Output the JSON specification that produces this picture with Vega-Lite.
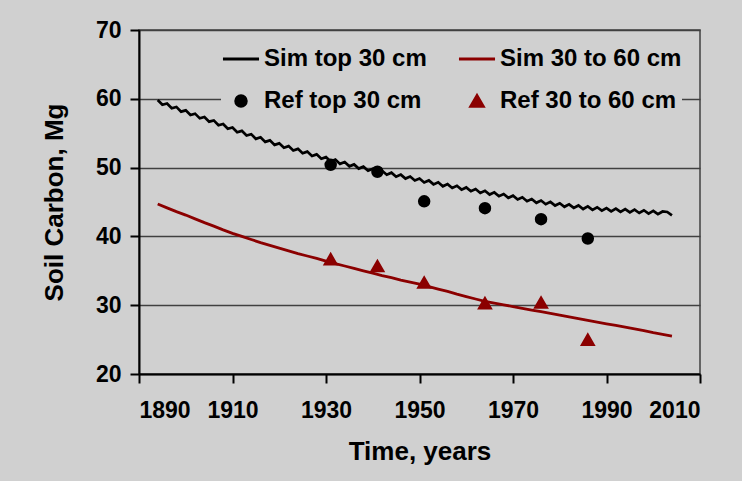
{
  "$schema": "https://vega.github.io/schema/vega-lite/v6.json",
  "width": 561,
  "height": 344,
  "autosize": {"type": "none"},
  "padding": {"left": 139, "top": 30, "right": 42, "bottom": 107},
  "background": "#d0d0d0",
  "config": {
    "font": "Liberation Sans",
    "view": {"stroke": "#404040", "strokeWidth": 1.5, "fill": "#d0d0d0"},
    "legend": {
      "orient": "none", "legendX": 82, "legendY": 9, "columns": 2,
      "fillColor": "#d0d0d0", "padding": 0, "columnPadding": 25, "rowPadding": 18,
      "labelFontSize": 24, "labelFontWeight": "bold", "labelColor": "#000000", "labelOffset": 3, "labelLimit": 400,
      "symbolStrokeWidth": 3, "symbolOpacity": 1
    }
  },
  "datasets": {
    "simtop": [
      {"year":1894,"value":59.82},{"year":1895,"value":59.13},{"year":1896,"value":59.32},{"year":1897,"value":58.63},{"year":1898,"value":58.82},{"year":1899,"value":58.13},
      {"year":1900,"value":58.32},{"year":1901,"value":57.64},{"year":1902,"value":57.84},{"year":1903,"value":57.16},{"year":1904,"value":57.36},{"year":1905,"value":56.68},
      {"year":1906,"value":56.86},{"year":1907,"value":56.16},{"year":1908,"value":56.34},{"year":1909,"value":55.64},{"year":1910,"value":55.82},{"year":1911,"value":55.14},
      {"year":1912,"value":55.34},{"year":1913,"value":54.66},{"year":1914,"value":54.86},{"year":1915,"value":54.18},{"year":1916,"value":54.40},{"year":1917,"value":53.74},
      {"year":1918,"value":53.96},{"year":1919,"value":53.30},{"year":1920,"value":53.52},{"year":1921,"value":52.88},{"year":1922,"value":53.12},{"year":1923,"value":52.48},
      {"year":1924,"value":52.72},{"year":1925,"value":52.08},{"year":1926,"value":52.32},{"year":1927,"value":51.68},{"year":1928,"value":51.92},{"year":1929,"value":51.28},
      {"year":1930,"value":51.52},{"year":1931,"value":50.90},{"year":1932,"value":51.16},{"year":1933,"value":50.54},{"year":1934,"value":50.80},{"year":1935,"value":50.18},
      {"year":1936,"value":50.46},{"year":1937,"value":49.86},{"year":1938,"value":50.14},{"year":1939,"value":49.54},{"year":1940,"value":49.82},{"year":1941,"value":49.24},
      {"year":1942,"value":49.54},{"year":1943,"value":48.96},{"year":1944,"value":49.26},{"year":1945,"value":48.68},{"year":1946,"value":48.98},{"year":1947,"value":48.40},
      {"year":1948,"value":48.70},{"year":1949,"value":48.12},{"year":1950,"value":48.42},{"year":1951,"value":47.84},{"year":1952,"value":48.14},{"year":1953,"value":47.56},
      {"year":1954,"value":47.86},{"year":1955,"value":47.28},{"year":1956,"value":47.60},{"year":1957,"value":47.04},{"year":1958,"value":47.36},{"year":1959,"value":46.80},
      {"year":1960,"value":47.12},{"year":1961,"value":46.56},{"year":1962,"value":46.88},{"year":1963,"value":46.32},{"year":1964,"value":46.64},{"year":1965,"value":46.08},
      {"year":1966,"value":46.40},{"year":1967,"value":45.84},{"year":1968,"value":46.16},{"year":1969,"value":45.60},{"year":1970,"value":45.92},{"year":1971,"value":45.36},
      {"year":1972,"value":45.68},{"year":1973,"value":45.12},{"year":1974,"value":45.44},{"year":1975,"value":44.88},{"year":1976,"value":45.22},{"year":1977,"value":44.68},
      {"year":1978,"value":45.02},{"year":1979,"value":44.48},{"year":1980,"value":44.82},{"year":1981,"value":44.30},{"year":1982,"value":44.66},{"year":1983,"value":44.14},
      {"year":1984,"value":44.50},{"year":1985,"value":43.98},{"year":1986,"value":44.36},{"year":1987,"value":43.86},{"year":1988,"value":44.24},{"year":1989,"value":43.74},
      {"year":1990,"value":44.12},{"year":1991,"value":43.64},{"year":1992,"value":44.04},{"year":1993,"value":43.56},{"year":1994,"value":43.96},{"year":1995,"value":43.48},
      {"year":1996,"value":43.88},{"year":1997,"value":43.40},{"year":1998,"value":43.80},{"year":1999,"value":43.32},{"year":2000,"value":43.72},{"year":2001,"value":43.23},
      {"year":2002,"value":43.62},{"year":2003,"value":43.55},{"year":2004,"value":43.05}
    ],
    "simsub": [
      {"year":1894,"value":44.7},{"year":1896,"value":44.15},{"year":1898,"value":43.6},{"year":1900,"value":43.1},{"year":1902,"value":42.55},{"year":1904,"value":42.0},
      {"year":1906,"value":41.5},{"year":1908,"value":40.95},{"year":1910,"value":40.45},{"year":1912,"value":40.0},{"year":1914,"value":39.55},{"year":1916,"value":39.1},
      {"year":1918,"value":38.7},{"year":1920,"value":38.3},{"year":1922,"value":37.9},{"year":1924,"value":37.5},{"year":1926,"value":37.15},{"year":1928,"value":36.8},
      {"year":1930,"value":36.4},{"year":1932,"value":36.05},{"year":1934,"value":35.7},{"year":1936,"value":35.35},{"year":1938,"value":35.0},{"year":1940,"value":34.65},
      {"year":1942,"value":34.3},{"year":1944,"value":34.0},{"year":1946,"value":33.65},{"year":1948,"value":33.35},{"year":1950,"value":33.05},{"year":1952,"value":32.7},
      {"year":1954,"value":32.35},{"year":1956,"value":32.0},{"year":1958,"value":31.6},{"year":1960,"value":31.25},{"year":1962,"value":30.9},{"year":1964,"value":30.55},
      {"year":1966,"value":30.3},{"year":1968,"value":30.05},{"year":1970,"value":29.8},{"year":1972,"value":29.55},{"year":1974,"value":29.3},{"year":1976,"value":29.05},
      {"year":1978,"value":28.8},{"year":1980,"value":28.55},{"year":1982,"value":28.3},{"year":1984,"value":28.05},{"year":1986,"value":27.8},{"year":1988,"value":27.55},
      {"year":1990,"value":27.3},{"year":1992,"value":27.05},{"year":1994,"value":26.8},{"year":1996,"value":26.55},{"year":1998,"value":26.3},{"year":2000,"value":26.0},
      {"year":2002,"value":25.75},{"year":2004,"value":25.5}
    ],
    "ref": [
      {"year":1931,"value":50.4,"series":"Ref top 30 cm"},{"year":1941,"value":49.4,"series":"Ref top 30 cm"},{"year":1951,"value":45.1,"series":"Ref top 30 cm"},
      {"year":1964,"value":44.1,"series":"Ref top 30 cm"},{"year":1976,"value":42.5,"series":"Ref top 30 cm"},{"year":1986,"value":39.7,"series":"Ref top 30 cm"},
      {"year":1931,"value":36.7,"series":"Ref 30 to 60 cm"},{"year":1941,"value":35.7,"series":"Ref 30 to 60 cm"},{"year":1951,"value":33.3,"series":"Ref 30 to 60 cm"},
      {"year":1964,"value":30.3,"series":"Ref 30 to 60 cm"},{"year":1976,"value":30.4,"series":"Ref 30 to 60 cm"},{"year":1986,"value":25.0,"series":"Ref 30 to 60 cm"}
    ]
  },
  "encoding": {
    "x": {
      "field": "year", "type": "quantitative",
      "scale": {"domain": [1890, 2010], "nice": false, "zero": false},
      "axis": {
        "values": [1890, 1910, 1930, 1950, 1970, 1990, 2010], "format": "d",
        "grid": false, "title": "Time, years",
        "domainColor": "#000000", "domainWidth": 2, "tickColor": "#000000", "tickWidth": 2, "tickSize": 9,
        "labelFontSize": 23, "labelFontWeight": "bold", "labelColor": "#000000", "labelPadding": 16,
        "titleFontSize": 26, "titleFontWeight": "bold", "titleColor": "#000000", "titlePadding": 16
      }
    },
    "y": {
      "field": "value", "type": "quantitative",
      "scale": {"domain": [20, 70], "nice": false, "zero": false},
      "axis": {
        "values": [20, 30, 40, 50, 60, 70], "grid": true, "gridColor": "#404040", "gridWidth": 1.5,
        "title": "Soil Carbon, Mg",
        "domainColor": "#000000", "domainWidth": 2, "tickColor": "#000000", "tickWidth": 2, "tickSize": 9,
        "labelFontSize": 23, "labelFontWeight": "bold", "labelColor": "#000000", "labelPadding": 9,
        "titleFontSize": 26, "titleFontWeight": "bold", "titleColor": "#000000", "titlePadding": 28
      }
    }
  },
  "layer": [
    {
      "data": {"name": "simtop"},
      "mark": {"type": "line", "color": "#000000", "strokeWidth": 2.7},
      "encoding": {}
    },
    {
      "data": {"name": "simsub"},
      "mark": {"type": "line", "color": "#8b0000", "strokeWidth": 2.8},
      "encoding": {}
    },
    {
      "data": {"name": "ref"},
      "mark": {"type": "point", "filled": true, "opacity": 1},
      "encoding": {
        "size": {
          "field": "series", "type": "nominal", "legend": {"title": null},
          "scale": {"type": "ordinal", "domain": ["Sim top 30 cm", "Ref top 30 cm", "Sim 30 to 60 cm", "Ref 30 to 60 cm"], "range": [1300, 110, 1300, 150]}
        },
        "color": {
          "field": "series", "type": "nominal", "legend": {"title": null},
          "scale": {"domain": ["Sim top 30 cm", "Ref top 30 cm", "Sim 30 to 60 cm", "Ref 30 to 60 cm"], "range": ["#000000", "#000000", "#8b0000", "#8b0000"]}
        },
        "stroke": {
          "field": "series", "type": "nominal", "legend": {"title": null},
          "scale": {"domain": ["Sim top 30 cm", "Ref top 30 cm", "Sim 30 to 60 cm", "Ref 30 to 60 cm"], "range": ["#000000", "#000000", "#8b0000", "#8b0000"]}
        },
        "shape": {
          "field": "series", "type": "nominal", "legend": {"title": null},
          "scale": {"domain": ["Sim top 30 cm", "Ref top 30 cm", "Sim 30 to 60 cm", "Ref 30 to 60 cm"], "range": ["stroke", "circle", "stroke", "triangle-up"]}
        }
      }
    }
  ]
}
